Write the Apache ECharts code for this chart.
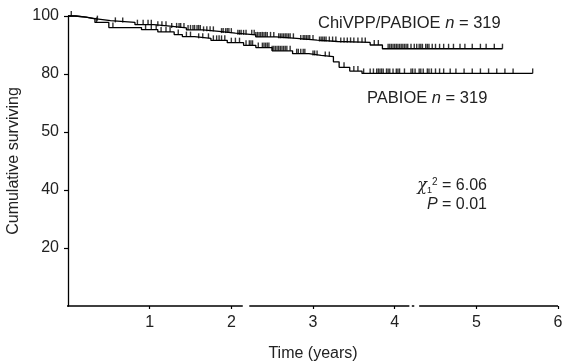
<!DOCTYPE html>
<html>
<head>
<meta charset="utf-8">
<script src="https://cdn.jsdelivr.net/npm/echarts@6/dist/echarts.min.js"></script>
<style>html,body{margin:0;padding:0;background:#fff}#c{width:562px;height:363px}</style>
</head>
<body>
<div id="c"></div>
<script>
// ---- data ----
var xTicks = [1, 2, 3, 4, 5, 6];
var yTicks = [20, 40, 60, 80, 100];
var yTickLabels = ['20', '40', '50', '80', '100'];

// ChiVPP/PABIOE step curve [years, % surviving]
var chivppTimes  = [0, 0.08, 0.22, 0.35, 0.52, 0.82, 1.05, 1.25, 1.45, 1.65, 1.85, 2.05, 2.30, 2.55, 2.80, 3.05, 3.30, 3.70, 3.85, 5.32];
var chivppValues = [100, 99.6, 99.0, 98.4, 97.8, 97.0, 96.5, 95.9, 95.2, 94.7, 94.1, 93.5, 92.8, 92.3, 91.7, 91.2, 90.9, 90.0, 88.7, 88.7];
var chivppCensored = [0.04, 0.36, 0.58, 0.67, 0.85, 0.92, 0.98, 1.02, 1.10, 1.15, 1.20, 1.27, 1.33, 1.36, 1.38, 1.42, 1.47, 1.50, 1.53, 1.55, 1.58, 1.60, 1.62, 1.66, 1.70, 1.74, 1.78, 1.88, 1.90, 1.93, 1.95, 1.97, 2.00, 2.08, 2.10, 2.12, 2.15, 2.18, 2.25, 2.28, 2.30, 2.32, 2.34, 2.36, 2.38, 2.40, 2.42, 2.44, 2.48, 2.52, 2.58, 2.60, 2.62, 2.64, 2.66, 2.68, 2.70, 2.72, 2.76, 2.85, 2.88, 2.90, 2.92, 2.94, 2.96, 3.00, 3.08, 3.10, 3.12, 3.14, 3.16, 3.20, 3.24, 3.28, 3.34, 3.38, 3.42, 3.46, 3.50, 3.55, 3.60, 3.64, 3.75, 3.80, 3.92, 3.94, 3.96, 3.98, 4.00, 4.02, 4.04, 4.06, 4.08, 4.10, 4.12, 4.14, 4.16, 4.20, 4.24, 4.27, 4.30, 4.32, 4.34, 4.38, 4.40, 4.42, 4.46, 4.50, 4.55, 4.60, 4.66, 4.72, 4.80, 4.86, 4.95, 5.05, 5.12, 5.22, 5.32];

// PABIOE step curve
var pabioeTimes  = [0, 0.10, 0.22, 0.33, 0.50, 0.90, 1.10, 1.30, 1.40, 1.55, 1.75, 1.95, 2.15, 2.30, 2.50, 2.75, 2.95, 3.10, 3.25, 3.32, 3.45, 3.60, 5.69];
var pabioeValues = [100, 99.6, 99.0, 97.8, 96.0, 95.3, 94.5, 93.6, 92.9, 92.3, 91.6, 90.8, 89.9, 89.1, 88.0, 87.0, 86.4, 86.0, 84.2, 82.3, 81.0, 80.2, 80.2];
var pabioeCensored = [0.35, 0.55, 0.95, 1.02, 1.08, 1.14, 1.20, 1.25, 1.35, 1.45, 1.50, 1.60, 1.65, 1.72, 1.78, 1.82, 1.85, 1.88, 1.92, 2.00, 2.05, 2.10, 2.18, 2.22, 2.24, 2.26, 2.33, 2.38, 2.40, 2.42, 2.44, 2.46, 2.50, 2.52, 2.54, 2.56, 2.58, 2.60, 2.62, 2.64, 2.66, 2.68, 2.72, 2.80, 2.82, 2.85, 2.88, 2.90, 3.00, 3.02, 3.05, 3.15, 3.20, 3.38, 3.50, 3.55, 3.62, 3.70, 3.74, 3.78, 3.80, 3.82, 3.84, 3.86, 3.90, 3.92, 3.94, 3.98, 4.02, 4.04, 4.06, 4.12, 4.20, 4.22, 4.25, 4.30, 4.32, 4.35, 4.40, 4.42, 4.45, 4.50, 4.55, 4.60, 4.68, 4.75, 4.85, 4.95, 5.05, 5.15, 5.25, 5.35, 5.45, 5.69];

// broken x-axis line pieces [start, end] in years
var axisPieces = [[-0.06, 2.14], [2.22, 4.18], [4.21, 4.24], [4.30, 6.0]];

// ---- build ----
function pairs(ts, vs) { return ts.map(function (t, i) { return [t, vs[i]]; }); }
function valueAt(ts, vs, t) { var v = vs[0]; for (var i = 0; i < ts.length; i++) { if (ts[i] <= t) v = vs[i]; } return v; }
function censorPts(cs, ts, vs) { return cs.map(function (t) { return [t, valueAt(ts, vs, t)]; }); }
var axisData = [];
axisPieces.forEach(function (p, i) { if (i) axisData.push(['-', '-']); axisData.push([p[0], 0], [p[1], 0]); });

var FONT = 'Liberation Sans, Arial, Helvetica, sans-serif';
var chart = echarts.init(document.getElementById('c'), null, { renderer: 'canvas' });
var censorSym = { type: 'scatter', symbol: 'rect', symbolSize: [1.4, 5], symbolOffset: [0, -2.5], itemStyle: { color: '#000' }, silent: true, z: 3 };
chart.setOption({
  animation: false,
  backgroundColor: '#fff',
  grid: { left: 68, right: 4, top: 16, bottom: 57, outerBoundsMode: 'none', containLabel: false },
  xAxis: {
    type: 'value', min: 0, max: 6,
    axisLine: { show: false },
    axisTick: { show: true, customValues: xTicks, length: 3, inside: false, lineStyle: { color: '#000', width: 1.2 } },
    axisLabel: { customValues: xTicks, color: '#222', fontSize: 16, fontFamily: FONT, margin: 9 },
    splitLine: { show: false },
    name: 'Time (years)', nameLocation: 'middle', nameGap: 40,
    nameTextStyle: { color: '#222', fontSize: 16, fontFamily: FONT }
  },
  yAxis: {
    type: 'value', min: 0, max: 100,
    axisLine: { show: true, onZero: false, lineStyle: { color: '#000', width: 1.3 } },
    axisTick: { show: true, customValues: yTicks, length: 4, lineStyle: { color: '#000', width: 1.2 } },
    axisLabel: { customValues: yTicks, color: '#222', fontSize: 16, fontFamily: FONT, margin: 9,
      formatter: function (v) { var i = yTicks.indexOf(v); return i < 0 ? '' : yTickLabels[i]; } },
    splitLine: { show: false },
    name: 'Cumulative surviving', nameLocation: 'middle', nameGap: 46,
    nameTextStyle: { color: '#222', fontSize: 16, fontFamily: FONT }
  },
  series: [
    { type: 'line', data: axisData, showSymbol: false, clip: false, connectNulls: false, lineStyle: { color: '#000', width: 1.3 }, silent: true },
    { type: 'line', name: 'ChiVPP/PABIOE', step: 'end', data: pairs(chivppTimes, chivppValues), showSymbol: false, lineStyle: { color: '#000', width: 1.3 }, clip: false },
    { type: 'line', name: 'PABIOE', step: 'end', data: pairs(pabioeTimes, pabioeValues), showSymbol: false, lineStyle: { color: '#000', width: 1.3 }, clip: false },
    Object.assign({ data: censorPts(chivppCensored, chivppTimes, chivppValues) }, censorSym),
    Object.assign({ data: censorPts(pabioeCensored, pabioeTimes, pabioeValues) }, censorSym)
  ],
  graphic: [
    { type: 'text', left: 318, top: 15, style: { text: 'ChiVPP/PABIOE {i|n} = 319', font: '16.5px ' + FONT, fill: '#222',
      rich: { i: { fontStyle: 'italic', fontSize: 16.5, fontFamily: FONT, fill: '#222' } } } },
    { type: 'text', left: 367, top: 90, style: { text: 'PABIOE {i|n} = 319', font: '16.5px ' + FONT, fill: '#222',
      rich: { i: { fontStyle: 'italic', fontSize: 16.5, fontFamily: FONT, fill: '#222' } } } },
    { type: 'text', right: 75, top: 177, style: { text: '{g|χ}{sub|1}{sup|2} = 6.06', font: '16px ' + FONT, fill: '#222',
      rich: { g: { fontStyle: 'italic', fontSize: 16, fontFamily: 'DejaVu Serif, serif', fill: '#222' },
              sub: { fontSize: 9, fontFamily: FONT, fill: '#222', verticalAlign: 'bottom', padding: [8, 0, 0, 0] },
              sup: { fontSize: 10, fontFamily: FONT, fill: '#222', verticalAlign: 'top', padding: [0, 0, 8, 0] } } } },
    { type: 'text', right: 75, top: 197, style: { text: '{i|P} = 0.01', font: '16px ' + FONT, fill: '#222',
      rich: { i: { fontStyle: 'italic', fontSize: 16, fontFamily: FONT, fill: '#222' } } } }
  ]
});
</script>
</body>
</html>
